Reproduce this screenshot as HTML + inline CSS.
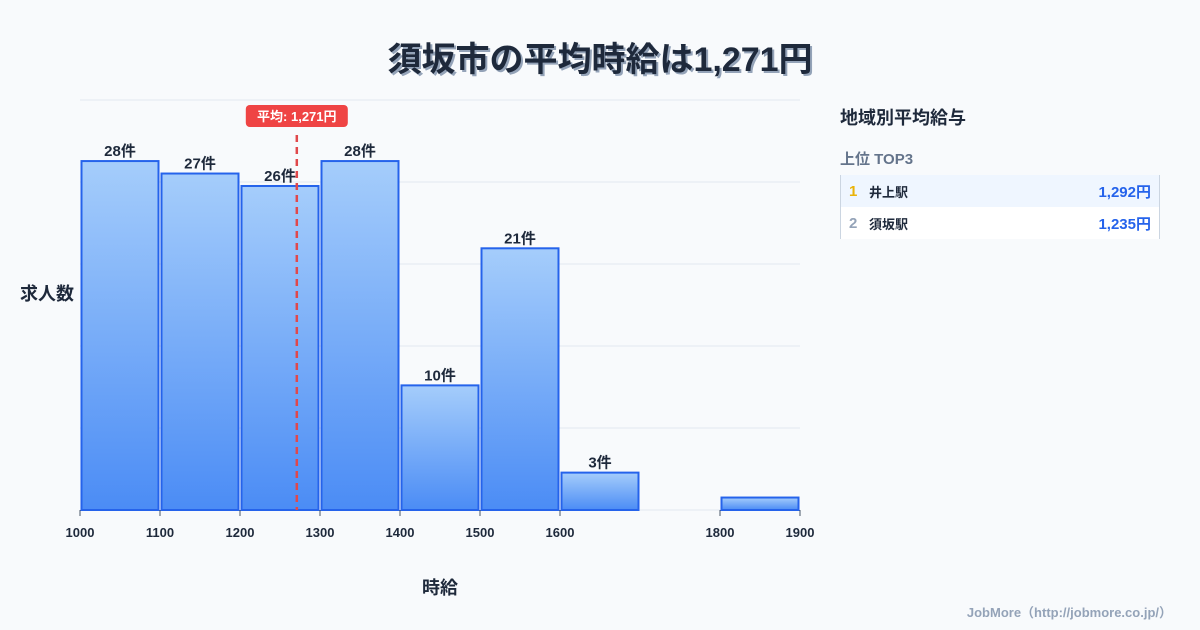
<!DOCTYPE html>
<html><head><meta charset="utf-8"><style>
body{margin:0;width:1200px;height:630px;background:#f8fafc;font-family:"Liberation Sans","Noto Sans CJK JP",sans-serif;position:relative;overflow:hidden;color:#1e293b}
.title{position:absolute;top:32px;left:0;width:1200px;text-align:center;font-size:34px;font-weight:bold;color:#1e293b;text-shadow:2px 2px 0 #94a3b8}
.panel{position:absolute;left:840px;top:100px;width:320px}
.ph{font-size:18px;font-weight:bold;margin-top:4px}
.sub{font-size:15px;font-weight:bold;color:#64748b;margin-top:18px}
.tbl{margin-top:6px;border-left:1px solid #cbd5e1;border-right:1px solid #cbd5e1}
.row{height:32px;display:flex;align-items:center;font-size:13px;font-weight:bold;padding:0 8px}
.row .r{width:20px;font-size:15px}
.row .v{margin-left:auto;color:#2563eb;font-size:15px}
.foot{position:absolute;right:28px;top:602px;font-size:13px;font-weight:bold;color:#94a3b8}
</style></head><body>
<div class="title">須坂市の平均時給は1,271円</div>
<svg id="chart" width="1200" height="630" style="position:absolute;left:0;top:0">
<defs><linearGradient id="g" x1="0" y1="0" x2="0" y2="1"><stop offset="0" stop-color="#a5cdfb"/><stop offset="1" stop-color="#4b8cf5"/></linearGradient></defs>
</svg>
<div class="panel">
<div class="ph">地域別平均給与</div>
<div class="sub">上位 TOP3</div>
<div class="tbl">
<div class="row" style="background:#eff6ff"><span class="r" style="color:#eab308">1</span><span>井上駅</span><span class="v">1,292円</span></div>
<div class="row" style="background:#fff"><span class="r" style="color:#94a3b8">2</span><span>須坂駅</span><span class="v">1,235円</span></div>
</div></div>
<div class="foot">JobMore（http://jobmore.co.jp/）</div>
<script>
const binStarts=[1000,1100,1200,1300,1400,1500,1600,1700,1800];
const counts=[28,27,26,28,10,21,3,0,1];
const tickLabels=[1000,1100,1200,1300,1400,1500,1600,1800,1900];
const meanValue=1271;
const ns="http://www.w3.org/2000/svg";
const svg=document.getElementById('chart');
const X0=80,X1=800,Y0=510,YT=100;
const xs=v=>X0+(v-1000)/(1900-1000)*(X1-X0);
const ys=v=>Y0-v*(Y0-YT)/32.9;
function mk(t,a){const e=document.createElementNS(ns,t);for(const k in a)e.setAttribute(k,a[k]);svg.appendChild(e);return e;}
for(let i=0;i<=5;i++){const y=Y0-i*(Y0-YT)/5;
const l=mk('line',{x1:X0,x2:X1,y1:y,y2:y,stroke:'#e2e8f0'});

}
binStarts.forEach((b,i)=>{const c=counts[i];if(c<=0)return;
const x=xs(b)+1.5,w=xs(b+100)-xs(b)-3,y=ys(c);
const r=mk('rect',{x:x,y:y,width:w,height:Y0-y,fill:'url(#g)',stroke:'#2563eb','stroke-width':2});


if(c>1){const t=mk('text',{x:x+w/2,y:y-5,'text-anchor':'middle','font-size':15,'font-weight':'bold',fill:'#1e293b'});t.textContent=c+'件';

}
});
tickLabels.forEach(v=>{const t=mk('text',{x:xs(v),y:537,'text-anchor':'middle','font-size':13,'font-weight':'bold',fill:'#1e293b'});t.textContent=v;


const tk=mk('line',{x1:xs(v),x2:xs(v),y1:Y0,y2:Y0+6,stroke:'#475569'});

});
const mx=xs(meanValue);
const ml=mk('line',{x1:mx,x2:mx,y1:135,y2:Y0,stroke:'#e0484b','stroke-width':2.5,'stroke-dasharray':'7,5'});


const mb=mk('rect',{x:mx-51,y:105,width:102,height:22,rx:4,fill:'#ef4444'});


const mt=mk('text',{x:mx,y:121,'text-anchor':'middle','font-size':13,'font-weight':'bold',fill:'#fff'});mt.textContent='平均: 1,271円';


const yl=mk('text',{x:20,y:300,'font-size':18,'font-weight':'bold',fill:'#1e293b'});yl.textContent='求人数';


const xl=mk('text',{x:440,y:594,'text-anchor':'middle','font-size':18,'font-weight':'bold',fill:'#1e293b'});xl.textContent='時給';


</script>
</body></html>
